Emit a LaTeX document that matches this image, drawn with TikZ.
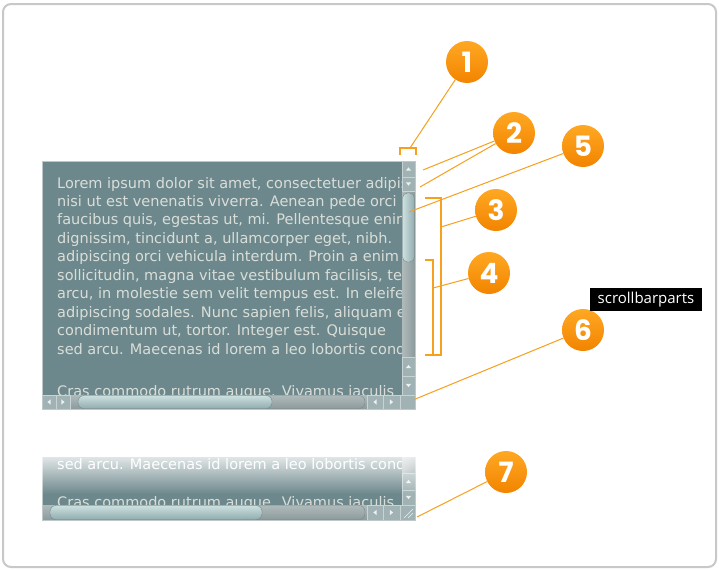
\documentclass[tikz,border=0pt]{standalone}
\usepackage{fontspec}
\newfontfamily\verd{DejaVu Sans}
\newfontfamily\numfnt{Poppins}
\newfontfamily\tipfnt{Open Sans}
\usetikzlibrary{calc,fadings}
\definecolor{winbg}{RGB}{109,136,140}
\definecolor{wintxt}{RGB}{218,222,216}
\definecolor{orA}{RGB}{255,168,35}
\definecolor{orB}{RGB}{242,132,0}
\definecolor{orL}{RGB}{246,160,30}
\definecolor{btn}{RGB}{160,178,180}
\definecolor{btnline}{RGB}{200,212,212}
\definecolor{trkA}{RGB}{176,186,187}
\definecolor{trkB}{RGB}{140,154,156}
\definecolor{thA}{RGB}{205,224,224}
\definecolor{thB}{RGB}{145,172,174}
\definecolor{frame}{RGB}{200,200,200}
\definecolor{arrc}{RGB}{235,242,242}
\definecolor{winedge}{RGB}{190,200,200}
\tikzset{
  num/.style={circle, minimum size=42pt, inner sep=0pt, top color=orA, bottom color=orB, draw=none, text=white, font=\numfnt\bfseries\fontsize{28}{28}\selectfont},
  lead/.style={draw=orL, line width=1pt},
  brk/.style={draw=orL, line width=1.2pt},
  ltext/.style={anchor=base west, inner sep=0pt, text=wintxt, font=\verd\fontsize{14.5}{16}\selectfont},
  btnbox/.style={fill=btn, draw=btnline, line width=0.5pt},
  vtrack/.style={left color=trkA, right color=trkB},
  htrack/.style={top color=trkA, bottom color=trkB},
  vthumb/.style={left color=thA, right color=thB, draw=thB!80!black, line width=0.4pt, rounded corners=5pt},
  hthumb/.style={top color=thA, bottom color=thB, draw=thB!80!black, line width=0.4pt, rounded corners=6pt},
  tip/.style={fill=black, text=white, inner xsep=8pt, inner ysep=0pt, minimum height=23pt, font=\tipfnt\fontsize{15}{17}\selectfont}
}
\newcommand{\sbUp}[2]{\fill[arrc] ($(#1,#2)+(-2.6,1.6)$) -- ($(#1,#2)+(2.6,1.6)$) -- ($(#1,#2)+(0,-1.6)$) -- cycle;}
\newcommand{\sbDn}[2]{\fill[arrc] ($(#1,#2)+(-2.6,-1.6)$) -- ($(#1,#2)+(2.6,-1.6)$) -- ($(#1,#2)+(0,1.6)$) -- cycle;}
\newcommand{\sbLt}[2]{\fill[arrc] ($(#1,#2)+(1.6,-2.6)$) -- ($(#1,#2)+(1.6,2.6)$) -- ($(#1,#2)+(-1.6,0)$) -- cycle;}
\newcommand{\sbRt}[2]{\fill[arrc] ($(#1,#2)+(-1.6,-2.6)$) -- ($(#1,#2)+(-1.6,2.6)$) -- ($(#1,#2)+(1.6,0)$) -- cycle;}
\begin{document}
\begin{tikzpicture}[x=1pt,y=-1pt]
\useasboundingbox (0,0) rectangle (719,570);
\fill[white] (0,0) rectangle (719,570);
\draw[frame, line width=2pt, rounded corners=8pt] (3,4) rectangle (716,567);

% ---------- main window ----------
\fill[winbg] (42,161) rectangle (415,409);
\begin{scope}
\clip (42,161) rectangle (402,395);
\node[ltext] (t1) at (57,188) {Lorem ipsum dolor sit amet, consectetuer adipiscing};
\node[ltext] (t2) at (57,206.4) {nisi ut est venenatis viverra. Aenean pede orci};
\node[ltext] (t3) at (57,224.9) {faucibus quis, egestas ut, mi. Pellentesque enim};
\node[ltext] (t4) at (57,243.3) {dignissim, tincidunt a, ullamcorper eget, nibh.};
\node[ltext] (t5) at (57,261.8) {adipiscing orci vehicula interdum. Proin a enim};
\node[ltext] (t6) at (57,280.2) {sollicitudin, magna vitae vestibulum facilisis, tellus};
\node[ltext] (t7) at (57,298.7) {arcu, in molestie sem velit tempus est. In eleifend};
\node[ltext] (t8) at (57,317.1) {adipiscing sodales. Nunc sapien felis, aliquam eu};
\node[ltext] (t9) at (57,335.6) {condimentum ut, tortor. Integer est. Quisque};
\node[ltext] (t10) at (57,354) {sed arcu. Maecenas id lorem a leo lobortis cond};
\node[ltext] (t11) at (57,396) {Cras commodo rutrum augue. Vivamus iaculis};
\end{scope}
% vertical scrollbar
\fill[vtrack] (402,161) rectangle (415,395);
\draw[btnbox] (402,161) rectangle (415,177); \sbUp{408.5}{169}
\draw[btnbox] (402,177) rectangle (415,191); \sbDn{408.5}{184}
\draw[vthumb] (402.5,193) rectangle (414.5,262);
\draw[btnbox] (402,357) rectangle (415,376); \sbUp{408.5}{366.5}
\draw[btnbox] (402,376) rectangle (415,395); \sbDn{408.5}{385.5}
% horizontal scrollbar
\fill[htrack] (42,395) rectangle (402,409);
\draw[btnbox] (42,395) rectangle (56,409); \sbLt{49}{402}
\draw[btnbox] (56,395) rectangle (70,409); \sbRt{63}{402}
\draw[thB!80!black, line width=0.4pt, rounded corners=6pt] (240,395.5) rectangle (365,408.5);
\draw[hthumb] (78,395.5) rectangle (272,408.5);
\draw[btnbox] (367,395) rectangle (383,409); \sbLt{375}{402}
\draw[btnbox] (383,395) rectangle (400,409); \sbRt{391.5}{402}
\draw[btnbox] (400,395) rectangle (415,409);
\draw[winedge, line width=0.8pt] (42,161) rectangle (415,409);

% ---------- second (resize) window ----------
\fill[winbg] (42,457) rectangle (415,520);
\begin{scope}
\clip (42,457) rectangle (402,505);
\node[ltext, text=white] (s1) at (57,469) {sed arcu. Maecenas id lorem a leo lobortis cond};
\node[ltext] (s2) at (57,507) {Cras commodo rutrum augue. Vivamus iaculis};
\end{scope}
\fill[vtrack] (402,457) rectangle (415,505);
\draw[btnbox] (402,473) rectangle (415,490); \sbUp{408.5}{481.5}
\draw[btnbox] (402,490) rectangle (415,505); \sbDn{408.5}{497.5}
\fill[htrack] (42,505) rectangle (402,520);
\draw[thB!80!black, line width=0.4pt, rounded corners=6pt] (240,505.5) rectangle (365,519.5);
\draw[hthumb] (50,505.5) rectangle (262,519.5);
\draw[btnbox] (367,505) rectangle (383,520); \sbLt{375}{512.5}
\draw[btnbox] (383,505) rectangle (400,520); \sbRt{391.5}{512.5}
\draw[btnbox] (400,505) rectangle (415,520);
\draw[arrc, line width=0.6pt] (404,518) -- (413,509) (408,518) -- (413,513);
\draw[winedge, line width=0.8pt] (42,520) -- (415,520) -- (415,457) (42,520) -- (42,457);
% fade of the top part
\fill[white, path fading=south, opacity=0.9] (40,452) rectangle (417,494);

% ---------- brackets ----------
\draw[brk] (400,155) -- (400,148) -- (416,148) -- (416,155);
\draw[brk] (425,198) -- (441,198) -- (441,355) -- (425,355);
\draw[brk] (425,260) -- (433,260) -- (433,355) -- (425,355);

% ---------- numbered callouts ----------
\node[num] (c1) at (467,62) {1};
\node[num] (c2) at (514,133) {2};
\node[num] (c5) at (583,146) {5};
\node[num] (c3) at (496,210) {3};
\node[num] (c4) at (489,273) {4};
\node[num] (c6) at (583,330) {6};
\node[num] (c7) at (506,472) {7};

\coordinate (p1) at (410,148);
\coordinate (p2a) at (423,170);
\coordinate (p2b) at (420,187);
\coordinate (p5) at (409,212);
\coordinate (p3) at (441,227);
\coordinate (p4) at (433,288);
\coordinate (p6) at (413,400);
\coordinate (p7) at (417,517);

\draw[lead] (c1) -- (p1);
\draw[lead] (c2) -- (p2a);
\draw[lead] (c2) -- (p2b);
\draw[lead] (c5) -- (p5);
\draw[lead] (c3) -- (p3);
\draw[lead] (c4) -- (p4);
\draw[lead] (c6) -- (p6);
\draw[lead] (c7) -- (p7);

% ---------- tooltip ----------
\node[tip] (tt) at (646,299.5) {scrollbarparts};
\end{tikzpicture}
\end{document}
